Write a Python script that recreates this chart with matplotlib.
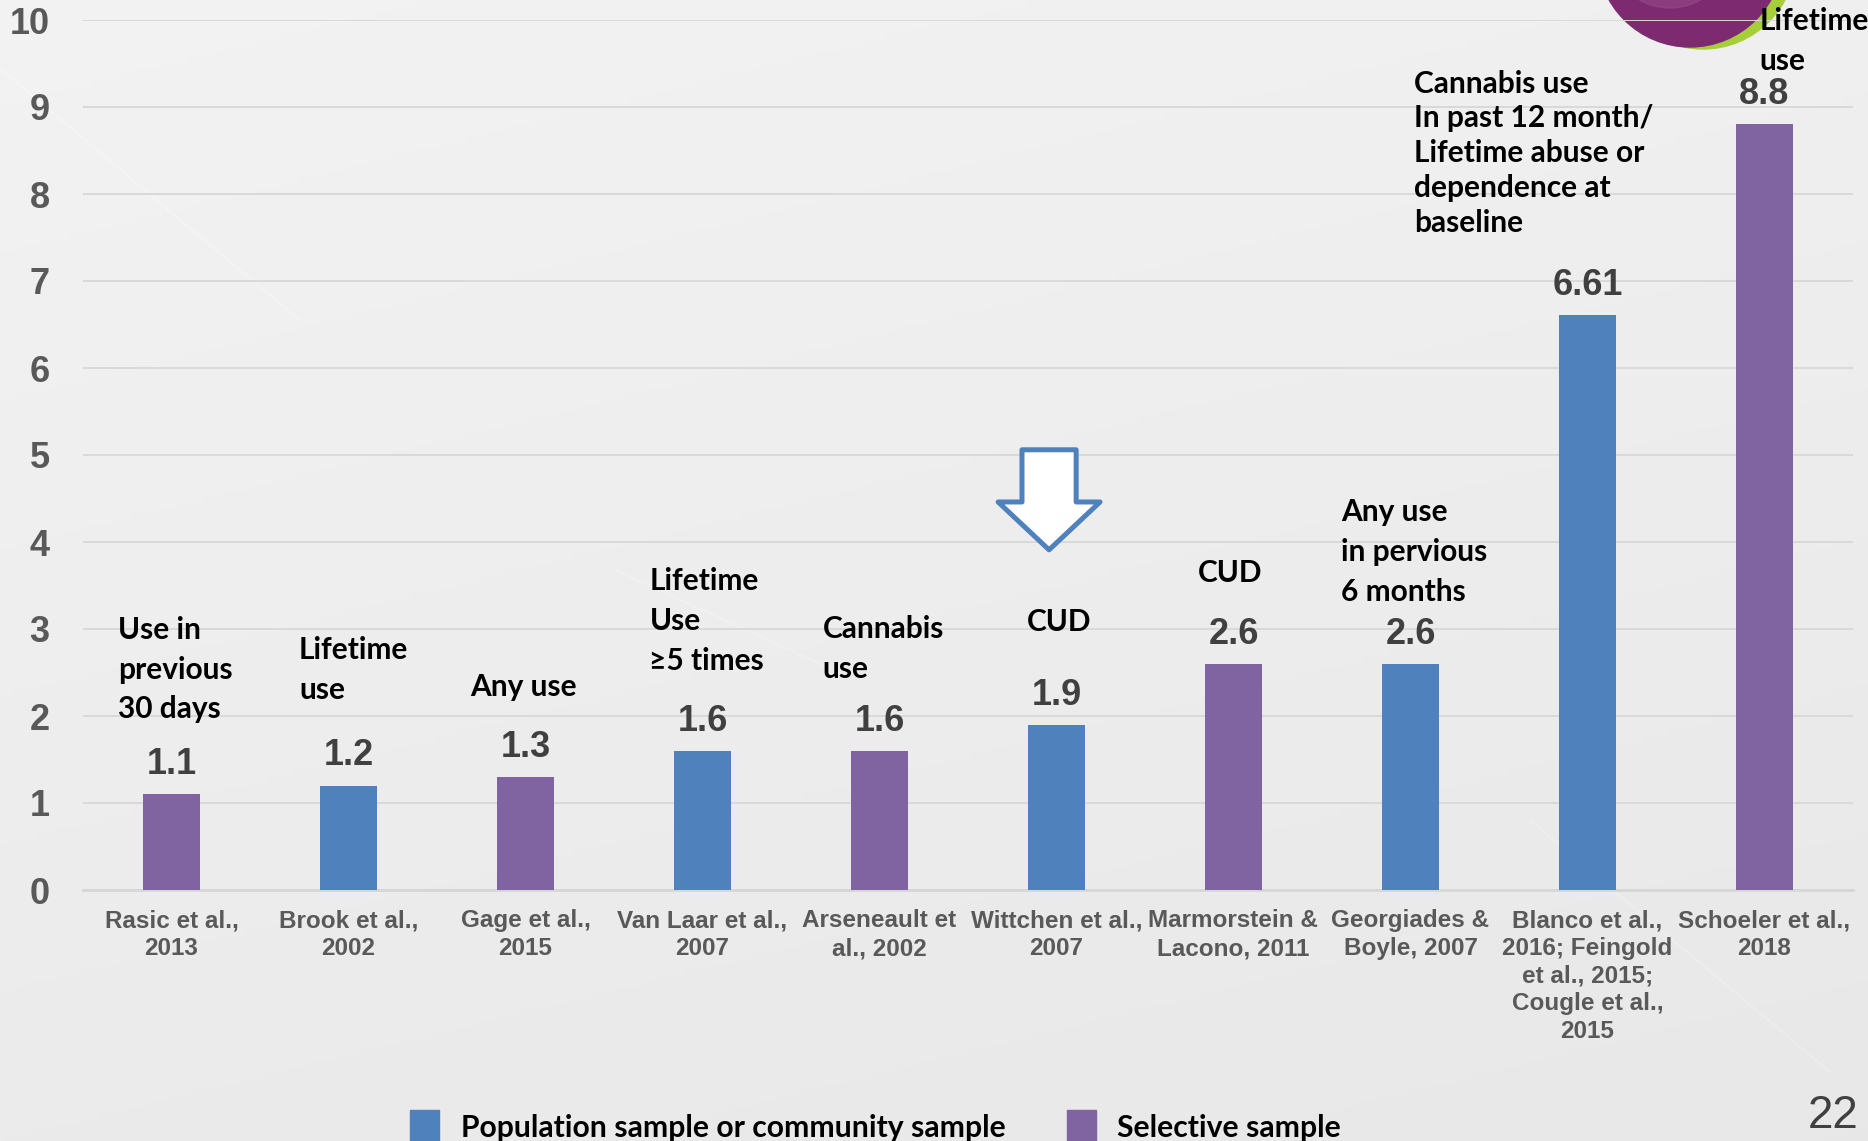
import numpy as np
import matplotlib.pyplot as plt
from matplotlib.patches import Polygon, Circle, Rectangle

# odds of later psychosis / study, coloured by sample type
studies = ["Rasic et al.,\n2013", "Brook et al.,\n2002", "Gage et al.,\n2015",
           "Van Laar et al.,\n2007", "Arseneault et\nal., 2002", "Wittchen et al.,\n2007",
           "Marmorstein &\nLacono, 2011", "Georgiades &\nBoyle, 2007",
           "Blanco et al.,\n2016; Feingold\net al., 2015;\nCougle et al.,\n2015",
           "Schoeler et al.,\n2018"]
odds = [1.1, 1.2, 1.3, 1.6, 1.6, 1.9, 2.6, 2.6, 6.61, 8.8]
groups = ["sel", "pop", "sel", "pop", "sel", "pop", "sel", "pop", "pop", "sel"]
measures = ["Use in\nprevious\n30 days", "Lifetime\nuse", "Any use",
            "Lifetime\nUse\n\u22655 times", "Cannabis\nuse", "CUD", "CUD",
            "Any use\nin pervious\n6 months",
            "Cannabis use\nIn past 12 month/\nLifetime abuse or\ndependence at\nbaseline",
            "Lifetime\nuse"]
group_names = {"pop": "Population sample or community sample", "sel": "Selective sample"}

BLUE = "#4F81BD"
PURPLE = "#8064A2"
colors = {"pop": BLUE, "sel": PURPLE}

# measure notes: shift from bar centre, top of text, line spacing
note_pos = [(-0.30, 3.15, 1.51), (-0.28, 2.92, 1.51), (-0.31, 2.49, 1.51),
            (-0.30, 3.71, 1.51), (-0.32, 3.16, 1.51), (-0.17, 3.24, 1.51),
            (-0.20, 3.80, 1.51), (-0.39, 4.50, 1.51), (-0.98, 9.43, 1.30),
            (-0.03, 10.15, 1.51)]

NOTE_FONT = ["Lato", "DejaVu Sans"]
ARIAL = "Liberation Sans"

W, H = 1868, 1141
fig = plt.figure(figsize=(W / 100, H / 100), dpi=100)

# soft grey slide backdrop
bg = fig.add_axes([0, 0, 1, 1], zorder=-5)
yy, xx = np.mgrid[0:1:200j, 0:1:300j]
shade = 0.948 - 0.03 * yy - 0.012 * xx
bg.imshow(shade, cmap="gray", vmin=0, vmax=1, extent=[0, 1, 0, 1],
          aspect="auto", origin="upper")
bg.plot([0.0, 0.16], [0.94, 0.72], color="white", alpha=0.25, lw=1.5)
bg.plot([0.33, 0.45], [0.50, 0.41], color="white", alpha=0.2, lw=1.5)
bg.plot([0.82, 0.98], [0.28, 0.06], color="white", alpha=0.2, lw=1.5)
bg.set_xlim(0, 1)
bg.set_ylim(0, 1)
bg.axis("off")

# decorative disc in the top right corner
fig.add_artist(Circle((17.03, 11.85), 0.93, transform=fig.dpi_scale_trans,
                      color="#A6CE39", zorder=-2))
fig.add_artist(Circle((16.90, 11.87), 0.93, transform=fig.dpi_scale_trans,
                      color="#7D2A70", zorder=-2))
fig.add_artist(Circle((16.70, 11.95), 0.62, transform=fig.dpi_scale_trans,
                      color="#9A4E8E", alpha=0.5, zorder=-2))

ax = fig.add_axes([83 / W, 251 / H, 1770 / W, 870 / H])
ax.set_facecolor("none")
x = np.arange(len(odds))
ax.bar(x, odds, width=0.32, color=[colors[g] for g in groups], zorder=3)

ax.set_xlim(-0.5, len(odds) - 0.5)
ax.set_ylim(0, 10)
ax.set_yticks(range(11))
ax.grid(axis="y", color="#D9D9D9", lw=1.4, zorder=0)
ax.set_axisbelow(True)
for s in ["top", "right", "left"]:
    ax.spines[s].set_visible(False)
ax.spines["bottom"].set_color("#D6D6D6")
ax.spines["bottom"].set_linewidth(2)

ax.set_xticks(x, studies, fontweight="bold", family=ARIAL, linespacing=1.26)
ax.tick_params(axis="x", length=0, pad=14, labelsize=17.5, labelcolor="#595959")
for lab in ax.get_yticklabels():
    lab.set_fontweight("bold")
    lab.set_family(ARIAL)
ax.tick_params(axis="y", length=0, pad=24, labelsize=26, labelcolor="#595959")

# value on top of each bar
for xi, v in zip(x, odds):
    ax.annotate(f"{v:g}", (xi, v), xytext=(0, 14.5), textcoords="offset points",
                ha="center", va="baseline", fontsize=26, fontweight="bold",
                family=ARIAL, color="#404040")

# what was measured in each study
for xi, txt, (dx, top, ls) in zip(x, measures, note_pos):
    ax.text(xi + dx, top, txt, ha="left", va="top", fontsize=21.5,
            fontweight="bold", family=NOTE_FONT, linespacing=ls,
            color="black", clip_on=False)

# arrow pointing at the Wittchen bar
cx = 5 - 0.042
arrow = [(cx - 0.153, 5.06), (cx + 0.153, 5.06), (cx + 0.153, 4.46),
         (cx + 0.288, 4.46), (cx, 3.91), (cx - 0.288, 4.46), (cx - 0.153, 4.46)]
ax.add_patch(Polygon(arrow, closed=True, facecolor="white", edgecolor=BLUE,
                     lw=3.6, joinstyle="round", zorder=4, clip_on=False))

# legend along the bottom edge
for (key, sx, tx) in [("pop", 4.10, 4.61), ("sel", 10.67, 11.17)]:
    fig.add_artist(Rectangle((sx, -0.05), 0.29, 0.36, transform=fig.dpi_scale_trans,
                             color=colors[key]))
    fig.text(tx / (W / 100), 0.04 / (H / 100), group_names[key], fontsize=21.7,
             fontweight="bold", family=NOTE_FONT, va="baseline", ha="left")

# slide number
fig.text(1859 / W, 13 / H, "22", fontsize=33, family=ARIAL, color="#404040",
         ha="right", va="baseline")

fig.savefig("out.png", dpi=100)
